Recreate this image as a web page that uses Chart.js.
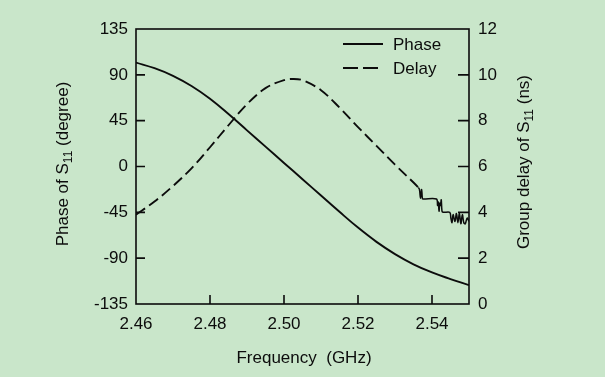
<!DOCTYPE html>
<html><head><meta charset="utf-8">
<script src="https://cdn.jsdelivr.net/npm/chart.js@4/dist/chart.umd.min.js"></script>
<style>html,body{margin:0;padding:0;background:#c9e6ca;}#wrap{width:605px;height:377px;}</style>
</head><body><div id="wrap"><canvas id="c" width="605" height="377"></canvas></div>
<script>
// ---- data ----
const phaseFreq = [2.460,2.465,2.470,2.475,2.480,2.485,2.490,2.495,2.500,2.505,2.510,2.515,2.520,2.525,2.530,2.535,2.540,2.545,2.550];
const phaseDeg  = [102,96.5,89,79,66.5,51.5,35.5,19.5,3.5,-12.5,-28.5,-44.5,-60,-74,-86,-96,-104,-110.5,-116.5];

const delayFreq = [2.460,2.465,2.470,2.475,2.480,2.485,2.490,2.495,2.500,2.5025,2.505,2.510,2.515,2.520,2.525,2.530,2.535,
  2.5363,2.5366,2.5369,2.5372,2.5374,2.5376,2.5412,2.5415,2.5417,2.5419,2.5421,2.5423,2.5425,2.5427,2.5430,2.5448,
  2.5451,2.5454,2.5457,2.5462,2.5466,2.5470,2.5474,2.5478,2.5482,2.5486,2.5490,2.5495,2.5500];
const delayNs   = [3.9,4.47,5.15,5.92,6.84,7.8,8.72,9.42,9.77,9.82,9.77,9.33,8.57,7.72,6.9,6.08,5.3,
  5.08,5.0,4.62,5.0,4.6,4.58,4.58,4.30,4.45,4.05,4.40,4.30,4.55,4.05,4.0,4.0,
  3.75,3.55,3.9,3.6,3.95,3.55,3.95,3.5,3.9,3.55,3.5,3.75,3.6];

const xTicks = [2.46,2.48,2.50,2.52,2.54];
const phaseTicks = [-135,-90,-45,0,45,90,135];
const delayTicks = [0,2,4,6,8,10,12];
const noiseStart = 2.5362;

const INK = '#0c0c0c';
const BG = '#c9e6ca';
const FONT = '"Liberation Sans", Arial, sans-serif';

const pts = (xs, ys) => xs.map((x,i)=>({x, y: ys[i]}));

function measureParts(ctx, parts, size) {
  let w = 0;
  parts.forEach(([t, sub]) => {
    ctx.font = (sub ? Math.round(size*0.68) : size) + 'px ' + FONT;
    w += ctx.measureText(t).width;
  });
  return w;
}
function renderSubText(ctx, parts, size, cx, cy) {
  const w = measureParts(ctx, parts, size);
  let x = cx - w/2;
  ctx.textAlign = 'left';
  ctx.textBaseline = 'alphabetic';
  const base = cy + size*0.36;
  parts.forEach(([t, sub]) => {
    ctx.font = (sub ? Math.round(size*0.68) : size) + 'px ' + FONT;
    ctx.fillText(t, x, sub ? base + size*0.2 : base);
    x += ctx.measureText(t).width;
  });
}

const decor = {
  id: 'decor',
  beforeDraw(chart) {
    const ctx = chart.ctx;
    ctx.save();
    ctx.fillStyle = BG;
    ctx.fillRect(0,0,chart.width,chart.height);
    ctx.restore();
  },
  afterDraw(chart) {
    const ctx = chart.ctx;
    const a = chart.chartArea;
    const sx = chart.scales.x, sy = chart.scales.y, sy2 = chart.scales.y2;
    ctx.save();
    ctx.strokeStyle = INK;
    ctx.lineWidth = 1.6;
    ctx.setLineDash([]);
    ctx.strokeRect(a.left, a.top, a.right - a.left, a.bottom - a.top);
    // inward ticks
    ctx.beginPath();
    xTicks.forEach(v => {
      const p = sx.getPixelForValue(v);
      if (Math.abs(p - a.left) < 2) return;
      ctx.moveTo(p, a.bottom); ctx.lineTo(p, a.bottom - 9);
    });
    phaseTicks.forEach(v => {
      if (v === phaseTicks[0] || v === phaseTicks[phaseTicks.length-1]) return;
      const p = sy.getPixelForValue(v);
      ctx.moveTo(a.left, p); ctx.lineTo(a.left + 9, p);
    });
    delayTicks.forEach(v => {
      if (v === delayTicks[0] || v === delayTicks[delayTicks.length-1]) return;
      const p = sy2.getPixelForValue(v);
      ctx.moveTo(a.right, p); ctx.lineTo(a.right - 11, p);
    });
    ctx.stroke();

    // legend
    ctx.fillStyle = INK;
    ctx.font = '17px ' + FONT;
    ctx.textAlign = 'left';
    ctx.textBaseline = 'middle';
    ctx.lineWidth = 1.8;
    const lx0 = 343, lx1 = 383;
    ctx.beginPath(); ctx.moveTo(lx0, 44); ctx.lineTo(lx1, 44); ctx.stroke();
    ctx.fillText('Phase', 393, 45);
    ctx.setLineDash([15,5]);
    ctx.beginPath(); ctx.moveTo(lx0, 68); ctx.lineTo(lx1, 68); ctx.stroke();
    ctx.setLineDash([]);
    ctx.fillText('Delay', 393, 69);

    // axis titles
    ctx.fillStyle = INK;
    ctx.save();
    ctx.translate(62, 164);
    ctx.rotate(-Math.PI/2);
    renderSubText(ctx, [['Phase of S', false], ['11', true], [' (degree)', false]], 17, 0, 0);
    ctx.restore();
    ctx.save();
    ctx.translate(523, 162);
    ctx.rotate(-Math.PI/2);
    renderSubText(ctx, [['Group delay of S', false], ['11', true], [' (ns)', false]], 17, 0, 0);
    ctx.restore();
    ctx.font = '17px ' + FONT;
    ctx.textAlign = 'center';
    ctx.textBaseline = 'middle';
    ctx.fillText('Frequency  (GHz)', 304, 358);
    ctx.restore();
  }
};

const tickFont = { family: FONT, size: 17 };

new Chart(document.getElementById('c'), {
  type: 'line',
  data: {
    datasets: [
      {
        label: 'Phase',
        data: pts(phaseFreq, phaseDeg),
        yAxisID: 'y',
        borderColor: INK,
        borderWidth: 1.9,
        pointRadius: 0,
        tension: 0.4,
        fill: false
      },
      {
        label: 'Delay',
        data: pts(delayFreq, delayNs),
        yAxisID: 'y2',
        borderColor: INK,
        borderWidth: 1.9,
        pointRadius: 0,
        tension: 0.35,
        fill: false,
        segment: {
          borderDash: c => (c.p0.parsed.x >= noiseStart ? [] : [11,5]),
          borderWidth: c => (c.p0.parsed.x >= noiseStart ? 1.5 : 1.9)
        }
      }
    ]
  },
  options: {
    responsive: false,
    devicePixelRatio: 1,
    animation: false,
    layout: { padding: { top: 29, left: 0, right: 0, bottom: 0 } },
    plugins: { legend: { display: false }, tooltip: { enabled: false } },
    scales: {
      x: {
        type: 'linear', position: 'bottom', min: 2.46, max: 2.55,
        grid: { display: false, drawTicks: false }, border: { display: false },
        afterBuildTicks: s => { s.ticks = xTicks.map(v => ({ value: v })); },
        afterFit: s => { s.height = 73; },
        ticks: { font: tickFont, color: INK, padding: 10, maxRotation: 0, autoSkip: false,
                 callback: v => Number(v).toFixed(2) }
      },
      y: {
        type: 'linear', position: 'left', min: -135, max: 135,
        grid: { display: false, drawTicks: false }, border: { display: false },
        afterBuildTicks: s => { s.ticks = phaseTicks.map(v => ({ value: v })); },
        afterFit: s => { s.width = 136; },
        ticks: { font: tickFont, color: INK, padding: 8, autoSkip: false }
      },
      y2: {
        type: 'linear', position: 'right', min: 0, max: 12,
        grid: { display: false, drawTicks: false }, border: { display: false },
        afterBuildTicks: s => { s.ticks = delayTicks.map(v => ({ value: v })); },
        afterFit: s => { s.width = 136; },
        ticks: { font: tickFont, color: INK, padding: 9, autoSkip: false }
      }
    }
  },
  plugins: [decor]
});
</script>
</body></html>
